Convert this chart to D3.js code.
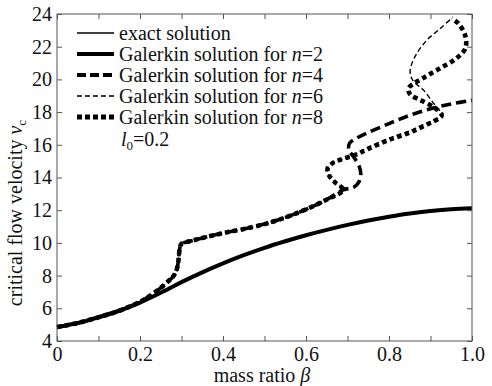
<!DOCTYPE html>
<html>
<head>
<meta charset="utf-8">
<script src="https://cdn.jsdelivr.net/npm/d3@7"></script>
<style>
  body { margin: 0; background: #fff; }
  svg text { font-family: "Liberation Serif", "DejaVu Serif", "Times New Roman", serif; fill: #111; }
</style>
</head>
<body>
<svg id="chart" width="492" height="386"></svg>
<script>
// Critical flow velocity v_c against mass ratio beta, l0 = 0.2
const SERIF = '"Liberation Serif", "DejaVu Serif", "Times New Roman", serif';

// exact solution
const exactBeta = [0, 0.05, 0.1, 0.15, 0.2, 0.25, 0.3, 0.35, 0.4, 0.45, 0.5, 0.55, 0.6, 0.65, 0.7, 0.75, 0.8, 0.85, 0.9, 0.95, 1.0];
const exactV    = [4.85, 5.1, 5.45, 5.85, 6.35, 6.95, 7.6, 8.2, 8.75, 9.25, 9.7, 10.1, 10.47, 10.8, 11.1, 11.37, 11.6, 11.8, 11.95, 12.06, 12.12];

// Galerkin, n = 2
const n2Beta = [0, 0.05, 0.1, 0.15, 0.2, 0.25, 0.3, 0.35, 0.4, 0.45, 0.5, 0.55, 0.6, 0.65, 0.7, 0.75, 0.8, 0.85, 0.9, 0.95, 1.0];
const n2V    = [4.85, 5.1, 5.45, 5.85, 6.35, 6.95, 7.6, 8.2, 8.75, 9.25, 9.7, 10.1, 10.47, 10.8, 11.1, 11.37, 11.6, 11.8, 11.95, 12.06, 12.12];

// branch shared by n = 4, 6, 8 up to beta ~ 0.69
const sharedBeta = [0, 0.05, 0.1, 0.15, 0.2, 0.22, 0.25, 0.27, 0.28, 0.288, 0.292, 0.294, 0.296, 0.3, 0.32, 0.35, 0.4, 0.45, 0.5, 0.55, 0.6, 0.65, 0.69];
const sharedV    = [4.85, 5.1, 5.45, 5.85, 6.4, 6.7, 7.25, 7.7, 7.95, 8.34, 8.8, 9.3, 9.7, 9.95, 10.1, 10.3, 10.6, 10.85, 11.15, 11.55, 12.05, 12.65, 13.25];

// Galerkin, n = 4 (after the shared branch)
const n4BetaTail = [0.715, 0.728, 0.732, 0.728, 0.715, 0.703, 0.705, 0.725, 0.75, 0.8, 0.85, 0.9, 0.95, 1.0];
const n4VTail    = [13.4, 13.75, 14.2, 14.7, 15.25, 15.7, 16.1, 16.45, 16.75, 17.3, 17.8, 18.2, 18.5, 18.72];

// Galerkin, n = 6 (after the shared branch)
const n6BetaTail = [0.67, 0.655, 0.652, 0.665, 0.69, 0.72, 0.75, 0.8, 0.85, 0.88, 0.905, 0.922, 0.93, 0.922, 0.907, 0.883, 0.86, 0.851, 0.853, 0.865, 0.891, 0.923, 0.951];
const n6VTail    = [13.7, 14.15, 14.55, 14.9, 15.15, 15.45, 15.85, 16.4, 16.85, 17.2, 17.45, 17.7, 17.9, 18.1, 18.55, 19.35, 19.85, 20.35, 20.8, 21.5, 22.4, 23.1, 23.74];

// Galerkin, n = 8 (after the shared branch)
const n8BetaTail = [0.67, 0.655, 0.652, 0.665, 0.69, 0.72, 0.75, 0.8, 0.85, 0.88, 0.905, 0.922, 0.927, 0.918, 0.905, 0.875, 0.852, 0.847, 0.86, 0.885, 0.923, 0.963, 0.984, 0.984, 0.968, 0.951];
const n8VTail    = [13.7, 14.15, 14.55, 14.9, 15.15, 15.4, 15.75, 16.3, 16.75, 17.1, 17.4, 17.65, 17.8, 18.1, 18.35, 18.75, 19.05, 19.45, 19.75, 20.12, 20.68, 21.3, 21.9, 22.65, 23.4, 23.74];

const xTicks = [0, 0.1, 0.2, 0.3, 0.4, 0.5, 0.6, 0.7, 0.8, 0.9, 1.0];
const yTicks = [4, 6, 8, 10, 12, 14, 16, 18, 20, 22, 24];

const toPoints = (b, v) => b.map((d, i) => [d, v[i]]);

const series = [
  { name: "n8", pts: toPoints(sharedBeta.concat(n8BetaTail), sharedV.concat(n8VTail)), width: 4.6, dash: "4.5,3.5" },
  { name: "n6", pts: toPoints(sharedBeta.concat(n6BetaTail), sharedV.concat(n6VTail)), width: 1.4, dash: "5,3" },
  { name: "n4", pts: toPoints(sharedBeta.concat(n4BetaTail), sharedV.concat(n4VTail)), width: 3.6, dash: "10,5" },
  { name: "n2", pts: toPoints(n2Beta, n2V), width: 4, dash: null },
  { name: "exact", pts: toPoints(exactBeta, exactV), width: 1.4, dash: null }
];

const svg = d3.select("#chart");
const x = d3.scaleLinear().domain([0, 1]).range([57, 472]);
const y = d3.scaleLinear().domain([4, 24]).range([341, 14]);

// curves
const line = d3.line()
  .x(d => x(d[0]))
  .y(d => y(d[1]))
  .curve(d3.curveCatmullRom.alpha(0.5));

const plot = svg.append("g");
series.forEach(s => {
  plot.append("path")
    .attr("d", line(s.pts))
    .attr("fill", "none")
    .attr("stroke", "#000")
    .attr("stroke-width", s.width)
    .attr("stroke-linecap", "butt")
    .attr("stroke-linejoin", "round")
    .attr("stroke-dasharray", s.dash);
});

// frame and inward ticks on all four sides
const fmtX = d => {
  const k = Math.round(d * 10);
  if (k % 2) return "";
  return k === 0 ? "0" : d3.format(".1f")(d);
};

const axisStyle = g => {
  g.attr("font-family", SERIF).attr("font-size", 20);
  g.select(".domain").remove();
  g.selectAll(".tick line").attr("stroke", "#555").attr("stroke-width", 1);
  g.selectAll(".tick text").attr("fill", "#111");
};

svg.append("g").attr("transform", `translate(0,${y(4)})`)
  .call(d3.axisBottom(x).tickValues(xTicks).tickFormat(fmtX).tickSizeInner(-5).tickSizeOuter(0).tickPadding(6))
  .call(axisStyle);
svg.append("g").attr("transform", `translate(0,${y(24)})`)
  .call(d3.axisTop(x).tickValues(xTicks).tickFormat("").tickSizeInner(-5).tickSizeOuter(0))
  .call(axisStyle);
svg.append("g").attr("transform", `translate(${x(0)},0)`)
  .call(d3.axisLeft(y).tickValues(yTicks).tickFormat(d3.format("d")).tickSizeInner(-5).tickSizeOuter(0).tickPadding(5))
  .call(axisStyle);
svg.append("g").attr("transform", `translate(${x(1)},0)`)
  .call(d3.axisRight(y).tickValues(yTicks).tickFormat("").tickSizeInner(-5).tickSizeOuter(0))
  .call(axisStyle);

svg.append("rect")
  .attr("x", x(0)).attr("y", y(24))
  .attr("width", x(1) - x(0)).attr("height", y(4) - y(24))
  .attr("fill", "none").attr("stroke", "#555").attr("stroke-width", 1);

// axis titles
const xt = svg.append("text").attr("x", 262).attr("y", 382)
  .attr("text-anchor", "middle").attr("font-family", SERIF).attr("font-size", 20);
xt.append("tspan").text("mass ratio ");
xt.append("tspan").attr("font-style", "italic").text("β");

const yt = svg.append("text")
  .attr("transform", "translate(22,213) rotate(-90)")
  .attr("text-anchor", "middle").attr("font-family", SERIF).attr("font-size", 20);
yt.append("tspan").text("critical flow velocity ");
yt.append("tspan").attr("font-style", "italic").text("v");
yt.append("tspan").attr("dy", 4).attr("font-size", 13).text("c");

// legend
const legendItems = [
  { key: "exact", label: "exact solution", n: null },
  { key: "n2", label: "Galerkin solution for ", n: "2" },
  { key: "n4", label: "Galerkin solution for ", n: "4" },
  { key: "n6", label: "Galerkin solution for ", n: "6" },
  { key: "n8", label: "Galerkin solution for ", n: "8" }
];
const legendStroke = {
  exact: { width: 1.6, dash: null },
  n2: { width: 4, dash: null },
  n4: { width: 4, dash: "9,4" },
  n6: { width: 1.5, dash: "5,3" },
  n8: { width: 5, dash: "5,3" }
};
const lg = svg.append("g").attr("font-family", SERIF).attr("font-size", 20);
legendItems.forEach((d, i) => {
  const cy = 33 + i * 21;
  lg.append("line")
    .attr("x1", 77).attr("x2", 114).attr("y1", cy).attr("y2", cy)
    .attr("stroke", "#000")
    .attr("stroke-width", legendStroke[d.key].width)
    .attr("stroke-dasharray", legendStroke[d.key].dash);
  const t = lg.append("text").attr("x", 119).attr("y", cy + 6.5);
  t.append("tspan").text(d.label);
  if (d.n) {
    t.append("tspan").attr("font-style", "italic").text("n");
    t.append("tspan").text("=" + d.n);
  }
});
const lt = lg.append("text").attr("x", 121).attr("y", 146);
lt.append("tspan").attr("font-style", "italic").text("l");
lt.append("tspan").attr("dy", 4).attr("font-size", 13).text("0");
lt.append("tspan").attr("dy", -4).text("=0.2");
</script>
</body>
</html>
